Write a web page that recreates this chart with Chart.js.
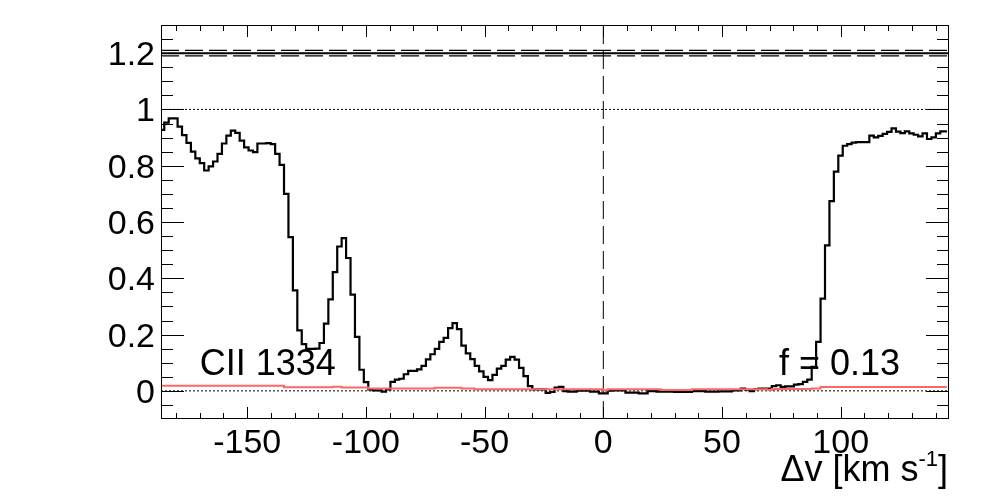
<!DOCTYPE html>
<html>
<head>
<meta charset="utf-8">
<script src="https://cdn.jsdelivr.net/npm/chart.js@4.4.1/dist/chart.umd.min.js"></script>
<style>
  html, body { margin: 0; padding: 0; background: #fff; }
  #wrap { width: 998px; height: 499px; }
</style>
</head>
<body>
<div id="wrap"><canvas id="c" width="998" height="499"></canvas></div>
<script>
// velocity grid (km/s): centre of the first bin and bin width
var binStart = -185.85;
var binWidth = 1.8677;

// normalised flux, one value per bin
var flux = [
  0.927, 0.953, 0.968, 0.968, 0.939, 0.909, 0.881, 0.850, 0.826, 0.809,
  0.783, 0.798, 0.815, 0.842, 0.879, 0.907, 0.925, 0.917, 0.889, 0.865,
  0.854, 0.848, 0.879, 0.879, 0.880, 0.877, 0.842, 0.803, 0.700, 0.546,
  0.357, 0.215, 0.166, 0.149, 0.149, 0.150, 0.170, 0.239, 0.325, 0.422,
  0.513, 0.543, 0.472, 0.342, 0.192, 0.075, 0.031, 0.005, 0.002, 0.002,
  -0.003, 0.005, 0.032, 0.040, 0.043, 0.059, 0.071, 0.071, 0.076, 0.089,
  0.112, 0.130, 0.149, 0.174, 0.188, 0.223, 0.241, 0.219, 0.161, 0.133,
  0.113, 0.089, 0.069, 0.050, 0.038, 0.057, 0.079, 0.089, 0.111, 0.121,
  0.111, 0.082, 0.052, 0.017, 0.005, 0.005, 0.005, -0.007, -0.004, 0.012,
  0.014, -0.001, -0.003, -0.003, 0.001, 0.001, 0.001, -0.003, -0.003, -0.009,
  -0.009, 0.001, 0.002, 0.002, 0.002, -0.006, -0.006, -0.006, -0.009, -0.009,
  -0.001, -0.001, -0.003, -0.003, -0.003, -0.003, -0.004, -0.004, -0.004, -0.004,
  -0.001, -0.001, -0.001, -0.003, -0.003, -0.003, -0.002, -0.002, -0.002, 0.002,
  0.002, 0.008, 0.004, -0.001, 0.006, 0.008, 0.008, 0.008, 0.017, 0.020,
  0.014, 0.016, 0.016, 0.022, 0.024, 0.032, 0.040, 0.085, 0.174, 0.328,
  0.517, 0.674, 0.779, 0.836, 0.871, 0.877, 0.882, 0.884, 0.884, 0.884,
  0.907, 0.901, 0.906, 0.913, 0.920, 0.933, 0.921, 0.916, 0.922, 0.915,
  0.910, 0.904, 0.915, 0.895, 0.901, 0.915, 0.922, 0.922
];

// flux error (red), one value per bin
var fluxErr = [
  0.018, 0.018, 0.018, 0.018, 0.018, 0.018, 0.018, 0.018, 0.018, 0.018,
  0.018, 0.018, 0.018, 0.018, 0.018, 0.018, 0.018, 0.018, 0.018, 0.018,
  0.018, 0.018, 0.018, 0.018, 0.018, 0.018, 0.018, 0.018, 0.013, 0.013,
  0.013, 0.013, 0.013, 0.013, 0.013, 0.013, 0.013, 0.013, 0.013, 0.015,
  0.015, 0.012, 0.012, 0.012, 0.012, 0.012, 0.012, 0.008, 0.008, 0.008,
  0.008, 0.008, 0.008, 0.008, 0.008, 0.008, 0.008, 0.008, 0.008, 0.008,
  0.008, 0.008, 0.011, 0.011, 0.011, 0.011, 0.011, 0.011, 0.008, 0.008,
  0.008, 0.006, 0.006, 0.006, 0.006, 0.006, 0.006, 0.006, 0.006, 0.006,
  0.006, 0.006, 0.006, 0.006, 0.006, 0.006, 0.006, 0.006, 0.006, 0.006,
  0.006, 0.006, 0.006, 0.006, 0.006, 0.006, 0.006, 0.006, 0.006, 0.006,
  0.002, 0.006, 0.006, 0.006, 0.006, 0.006, 0.006, 0.006, 0.006, 0.006,
  0.006, 0.006, 0.006, 0.003, 0.003, 0.003, 0.003, 0.003, 0.003, 0.003,
  0.006, 0.006, 0.006, 0.006, 0.006, 0.006, 0.006, 0.006, 0.006, 0.006,
  0.006, 0.006, 0.006, 0.006, 0.006, 0.006, 0.006, 0.003, 0.007, 0.007,
  0.007, 0.007, 0.007, 0.007, 0.007, 0.007, 0.007, 0.008, 0.008, 0.014,
  0.014, 0.014, 0.014, 0.014, 0.014, 0.014, 0.014, 0.014, 0.014, 0.014,
  0.014, 0.014, 0.014, 0.014, 0.014, 0.014, 0.014, 0.014, 0.014, 0.014,
  0.014, 0.014, 0.014, 0.014, 0.014, 0.014, 0.014, 0.014
];

// axes
var xRange = [-186.3, 145.6];
var yRange = [-0.1, 1.3];
var xTicks = [-150, -100, -50, 0, 50, 100];
var yTicks = [0, 0.2, 0.4, 0.6, 0.8, 1, 1.2];
var xMinorStep = 10;
var yMinorStep = 0.05;

// reference lines
var dottedLevels = [0, 1];
var componentLevel = 1.2;
var componentBand = [1.19, 1.21];
var centreVelocity = 0;

// labels
var ionLabel = 'CII 1334';
var fLabel = 'f = 0.13';
var labelPos = { ion: [-170, 0.056], f: [74, 0.056] };

var FONT = '"Liberation Sans", Arial, Helvetica, sans-serif';
var TICK_SIZE = 34;
var LABEL_SIZE = 36;

function toPoints(vals) {
  return vals.map(function (v, i) { return { x: binStart + i * binWidth, y: v }; });
}

function hline(y, dash, width) {
  return {
    data: [{ x: xRange[0], y: y }, { x: xRange[1], y: y }],
    borderColor: '#000', borderWidth: width, borderDash: dash,
    pointRadius: 0, order: 3
  };
}

function text(ctx, txt, x, y, align, size) {
  ctx.save();
  ctx.font = size + 'px ' + FONT;
  ctx.textAlign = align;
  ctx.textBaseline = 'alphabetic';
  ctx.fillStyle = '#000';
  ctx.fillText(txt, x, y);
  ctx.restore();
}

// ROOT-like frame: box, inward ticks on all sides, labels
var rootFrame = {
  id: 'rootFrame',
  afterDraw: function (chart) {
    var ctx = chart.ctx, a = chart.chartArea;
    var xs = chart.scales.x, ys = chart.scales.y;
    ctx.save();
    ctx.strokeStyle = '#000';
    ctx.lineWidth = 1;
    ctx.strokeRect(Math.round(a.left) + 0.5, Math.round(a.top) + 0.5,
                   Math.round(a.right - a.left) - 1, Math.round(a.bottom - a.top) - 1);
    ctx.beginPath();
    var v, p, len;
    for (v = -180; v <= xRange[1]; v += xMinorStep) {
      p = Math.round(xs.getPixelForValue(v)) + 0.5;
      len = (Math.abs(v % 50) < 1e-6) ? 12 : 6;
      ctx.moveTo(p, a.bottom); ctx.lineTo(p, a.bottom - len);
      ctx.moveTo(p, a.top); ctx.lineTo(p, a.top + len);
    }
    for (var k = -1; k <= 26; k++) {
      v = k * yMinorStep;
      if (v < yRange[0] || v > yRange[1]) continue;
      p = Math.round(ys.getPixelForValue(v)) + 0.5;
      len = (k % 4 === 0) ? 23 : 12;
      ctx.moveTo(a.left, p); ctx.lineTo(a.left + len, p);
      ctx.moveTo(a.right, p); ctx.lineTo(a.right - len, p);
    }
    ctx.stroke();
    ctx.restore();

    xTicks.forEach(function (t) {
      text(ctx, String(t), xs.getPixelForValue(t), 453, 'center', TICK_SIZE);
    });
    yTicks.forEach(function (t) {
      text(ctx, String(+t.toFixed(1)), a.left - 6, ys.getPixelForValue(t) + 12, 'right', TICK_SIZE);
    });

    text(ctx, ionLabel, xs.getPixelForValue(labelPos.ion[0]), ys.getPixelForValue(labelPos.ion[1]), 'left', LABEL_SIZE);
    text(ctx, fLabel, xs.getPixelForValue(labelPos.f[0]), ys.getPixelForValue(labelPos.f[1]), 'left', LABEL_SIZE);

    // axis title, right aligned with a superscript
    var size = 36, supSize = 22, base = 481, right = a.right - 1;
    ctx.save();
    ctx.font = size + 'px ' + FONT;
    var wClose = ctx.measureText(']').width;
    ctx.font = supSize + 'px ' + FONT;
    var wSup = ctx.measureText('-1').width;
    ctx.restore();
    text(ctx, ']', right, base, 'right', size);
    text(ctx, '-1', right - wClose, base - 15, 'right', supSize);
    text(ctx, '\u0394v [km s', right - wClose - wSup, base, 'right', size);
  }
};

var datasets = [
  {
    data: toPoints(fluxErr), stepped: 'middle',
    borderColor: 'rgb(255,102,102)', borderWidth: 2, pointRadius: 0, order: 0
  },
  {
    data: toPoints(flux), stepped: 'middle',
    borderColor: '#000', borderWidth: 2.2, pointRadius: 0, order: 1
  },
  hline(componentLevel, [], 2),
  hline(componentBand[0], [18, 6], 1.3),
  hline(componentBand[1], [18, 6], 1.3),
  {
    data: [{ x: centreVelocity, y: yRange[0] }, { x: centreVelocity, y: yRange[1] }],
    borderColor: '#000', borderWidth: 1, borderDash: [18, 7], pointRadius: 0, order: 3
  }
];
dottedLevels.forEach(function (lv) { datasets.push(hline(lv, [2, 2], 1)); });

new Chart(document.getElementById('c'), {
  type: 'line',
  data: { datasets: datasets },
  options: {
    responsive: false,
    animation: false,
    devicePixelRatio: 1,
    layout: { padding: { top: 25, right: 49, left: 0, bottom: 0 } },
    plugins: { legend: { display: false }, tooltip: { enabled: false } },
    scales: {
      x: {
        type: 'linear', min: xRange[0], max: xRange[1],
        grid: { display: false }, border: { display: false },
        ticks: { display: false },
        afterFit: function (s) { s.height = 80; }
      },
      y: {
        type: 'linear', min: yRange[0], max: yRange[1],
        grid: { display: false }, border: { display: false },
        ticks: { display: false },
        afterFit: function (s) { s.width = 161; }
      }
    }
  },
  plugins: [rootFrame]
});
</script>
</body>
</html>
